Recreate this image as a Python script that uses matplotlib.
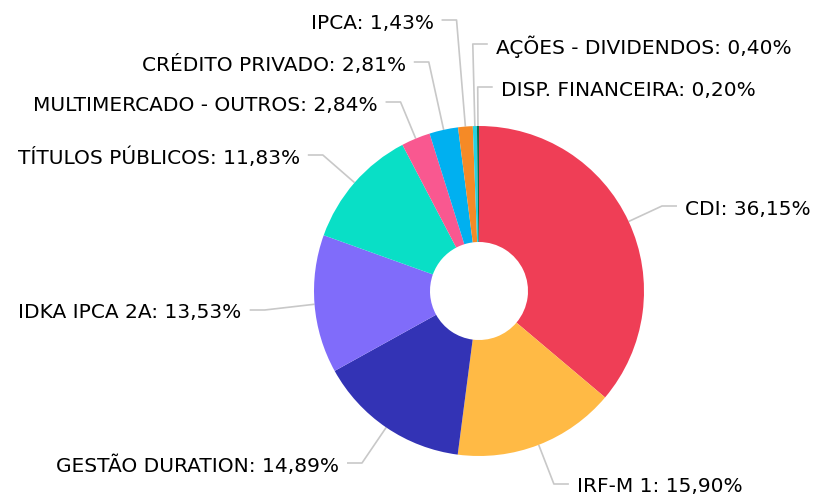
import numpy as np
import matplotlib
matplotlib.use("Agg")
import matplotlib.pyplot as plt

categories = ["CDI", "IRF-M 1", "GESTÃO DURATION", "IDKA IPCA 2A", "TÍTULOS PÚBLICOS",
              "MULTIMERCADO - OUTROS", "CRÉDITO PRIVADO", "IPCA",
              "AÇÕES - DIVIDENDOS", "DISP. FINANCEIRA"]
values = [36.15, 15.90, 14.89, 13.53, 11.83, 2.84, 2.81, 1.43, 0.40, 0.20]
colors = ["#EF3E56", "#FFBA45", "#3333B5", "#806CFA", "#09DFC6",
          "#F95890", "#00B0F0", "#F58A26", "#27D1E0", "#0B6E4F"]

# layout (pixel space, y measured from top)
W, H = 823, 498
cx, cy_top, R, r_in = 479, 291, 165, 49
label_y = [206, 484, 463, 310, 155, 102, 62, 20, 44, 87]
side = [1, 1, -1, -1, -1, -1, -1, -1, 1, 1]

fig = plt.figure(figsize=(W / 100, H / 100), dpi=100)
ax = fig.add_axes([0, 0, 1, 1])

cy = H - cy_top
ax.pie(values, colors=colors, startangle=90, counterclock=False,
       center=(cx, cy), radius=R, wedgeprops=dict(width=R - r_in, linewidth=0),
       frame=True)
ax.set_xlim(0, W)
ax.set_ylim(0, H)
ax.set_aspect("equal")
ax.axis("off")

total = sum(values)
cum = 0.0
for cat, v, ly, s in zip(categories, values, label_y, side):
    mid = (cum + v / 2) / total * 2 * np.pi
    cum += v
    dx, dy = np.sin(mid), np.cos(mid)  # dy upward
    ex, ey = cx + R * dx, cy + R * dy
    ly_d = H - ly
    if abs(dy) < 0.3:
        bx = cx + 215 * dx
    else:
        t = (ly_d - cy) / dy
        bx = cx + t * dx
    hx = bx + s * 15
    ax.plot([ex, bx, hx], [ey, ly_d, ly_d], color="#C8C8C8", lw=1.2,
            solid_capstyle="butt", zorder=0)
    val_txt = f"{v:.2f}".replace(".", ",")
    ax.text(hx + s * 8, ly_d - 3, f"{cat}: {val_txt}%",
            ha="left" if s > 0 else "right", va="center",
            fontsize=14.5, color="#000000", family="DejaVu Sans")

fig.savefig("out.png", dpi=100)
